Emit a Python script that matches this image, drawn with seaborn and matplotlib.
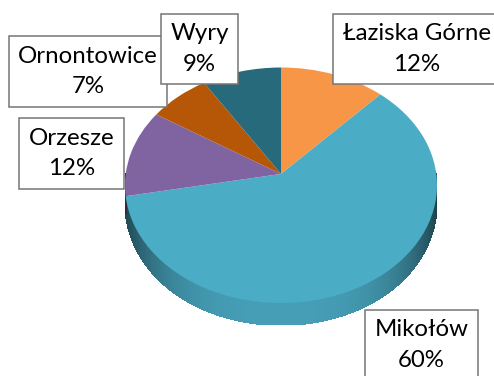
import numpy as np
import matplotlib
matplotlib.use("Agg")
import matplotlib.pyplot as plt
import matplotlib.transforms as mtransforms
from matplotlib.collections import PolyCollection
from matplotlib.colors import to_rgb
import seaborn as sns

# Share of each town
towns = ["Łaziska Górne", "Mikołów", "Orzesze", "Ornontowice", "Wyry"]
shares = [12, 60, 12, 7, 9]
colors = ["#F79646", "#4BACC6", "#8064A2", "#B65708", "#276A7B"]


class TiltPerspective(mtransforms.Transform):
    """Projective map of the unit disc onto itself that moves the centre
    upwards, giving a tilted pie a perspective look."""
    input_dims = 2
    output_dims = 2

    def __init__(self, a):
        super().__init__()
        self.a = a

    def transform_non_affine(self, values):
        v = np.asarray(values, dtype=float)
        x, y = v[:, 0], v[:, 1]
        d = 1.0 + self.a * y
        return np.column_stack([x * np.sqrt(1 - self.a ** 2) / d, (y + self.a) / d])


sns.set_theme(style="white")
plt.rcParams["font.family"] = ["Lato", "DejaVu Sans"]

W, H = 494, 376
fig = plt.figure(figsize=(W / 100, H / 100), dpi=100)
fig.patch.set_facecolor("white")

# pie top face and rim, in pixels
left, right = 125, 437
top, face_bottom, rim_bottom = 67.5, 303, 325
ry_px = (face_bottom - top) / 2
depth = (rim_bottom - face_bottom) / ry_px

ax = fig.add_axes([left / W, (H - rim_bottom) / H,
                   (right - left) / W, (rim_bottom - top) / H])
ax.set_axis_off()

tilt = TiltPerspective(0.096)
wedges, _ = ax.pie(shares, colors=colors, startangle=90, counterclock=False,
                   radius=1, wedgeprops=dict(linewidth=0))
for w in wedges:
    w.set_transform(tilt + ax.transData)
    w.set_zorder(2)

# rim of the pie: front half only, shaded darker towards the edges
polys, fcs = [], []
for w, c in zip(wedges, colors):
    base = np.array(to_rgb(c))
    for k in (-1, 0, 1):
        a = max(w.theta1, -180 + 360 * k)
        b = min(w.theta2, 0 + 360 * k)
        if b <= a:
            continue
        n = max(2, int((b - a) / 0.5))
        th = np.radians(np.linspace(a, b, n + 1))
        pts = tilt.transform(np.column_stack([np.cos(th), np.sin(th)]))
        # rim gets thinner towards the back, as seen in perspective
        scale = 1.0 - 0.35 * (1 - np.abs(np.sin(th))) ** 2
        for i in range(n):
            p0, p1 = pts[i], pts[i + 1]
            d0, d1 = depth * scale[i], depth * scale[i + 1]
            quad = [p0, p1, p1 - [0, d1], p0 - [0, d0]]
            xm = abs(np.cos((th[i] + th[i + 1]) / 2))
            shade = 0.92 - 0.55 * xm ** 3
            polys.append(quad)
            fcs.append(np.clip(base * shade, 0, 1))
rim = PolyCollection(polys, facecolors=fcs, edgecolors=fcs, linewidths=0.6,
                     antialiaseds=False, zorder=1)
ax.add_collection(rim)

ax.set_aspect("auto")
ax.set_xlim(-1, 1)
ax.set_ylim(-1 - depth, 1)

# data labels
lab = fig.add_axes([0, 0, 1, 1])
lab.set_xlim(0, W)
lab.set_ylim(H, 0)
lab.set_axis_off()
lab.patch.set_alpha(0)

label_xy = [(417, 49), (421.5, 345), (71.5, 153.5), (88, 71.5), (199.5, 49)]
for name, pct, (x, y) in zip(towns, shares, label_xy):
    lab.text(x, y, f"{name}\n{pct}%", ha="center", va="center",
             multialignment="center", fontsize=17.3, linespacing=1.55,
             color="black",
             bbox=dict(boxstyle="square,pad=0.4", fc="white",
                       ec="#757575", lw=1.1))

fig.savefig("out.png", dpi=100)
